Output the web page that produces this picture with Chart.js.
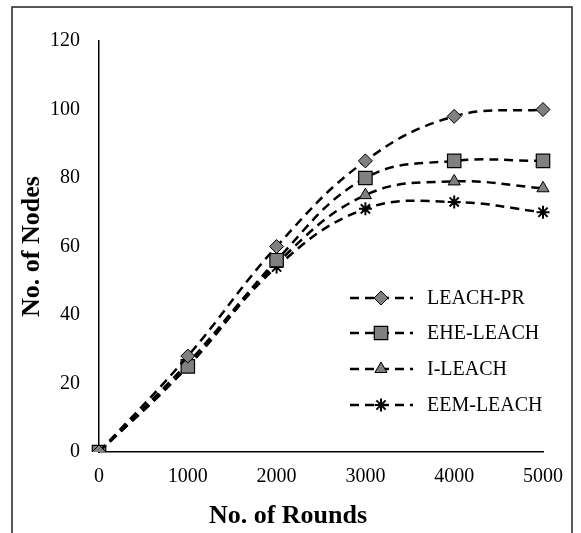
<!DOCTYPE html>
<html>
<head>
<meta charset="utf-8">
<script src="https://cdn.jsdelivr.net/npm/chart.js@4.4.1/dist/chart.umd.min.js"></script>
<style>
  body { margin: 0; background: #fff; overflow: hidden; }
  #wrap { width: 581px; height: 533px; position: relative; }
</style>
</head>
<body>
<div id="wrap"><canvas id="nodesChart"></canvas></div>
<script>
// 数据
const rounds = ['0', '1000', '2000', '3000', '4000', '5000'];
const seriesNames = ['LEACH-PR', 'EHE-LEACH', 'I-LEACH', 'EEM-LEACH'];
const leachPR = [0, 28, 60, 85, 98, 100];
const eheLeach = [0, 25, 56, 80, 85, 85];
const iLeach = [0, 26, 55, 75, 79, 77];
const eemLeach = [0, 25, 54, 71, 73, 70];
const yTicks = [0, 20, 40, 60, 80, 100, 120];

const serif = "'Liberation Serif', 'Times New Roman', serif";
Chart.defaults.font.family = serif;
Chart.defaults.font.size = 20;
Chart.defaults.color = '#000';

function lineSet(label, data, style, radius, bw) {
    return {
        label: label,
        data: data,
        borderColor: '#000',
        borderWidth: 2.5,
        borderDash: [9, 6],
        fill: false,
        tension: 0.4,
        pointStyle: style,
        pointRadius: radius,
        pointHoverRadius: radius,
        pointBackgroundColor: '#808080',
        pointBorderColor: '#000',
        pointBorderWidth: bw
    };
}

// 外框、横轴标题、图例
const decorPlugin = {
    id: 'decor',
    beforeDraw(chart) {
        const ctx = chart.ctx;
        ctx.save();
        ctx.strokeStyle = '#222';
        ctx.lineWidth = 1.5;
        ctx.strokeRect(12, 7, 560, 600);
        ctx.restore();
    },
    afterDraw(chart) {
        const ctx = chart.ctx;
        ctx.save();
        ctx.fillStyle = '#000';
        ctx.font = 'bold 26px ' + serif;
        ctx.textAlign = 'center';
        ctx.textBaseline = 'middle';
        ctx.fillText('No. of Rounds', 288, 516);

        const rowY = [298, 333, 369, 405];
        chart.data.datasets.forEach((ds, i) => {
            const y = rowY[i];
            ctx.save();
            ctx.strokeStyle = '#000';
            ctx.lineWidth = 2.5;
            ctx.setLineDash([9, 6]);
            ctx.beginPath();
            ctx.moveTo(350, y);
            ctx.lineTo(413, y);
            ctx.stroke();
            ctx.restore();

            ctx.save();
            ctx.fillStyle = ds.pointBackgroundColor;
            ctx.strokeStyle = ds.pointBorderColor;
            ctx.lineWidth = ds.pointBorderWidth;
            Chart.helpers.drawPoint(ctx, {
                pointStyle: ds.pointStyle,
                radius: ds.pointRadius,
                rotation: 0,
                borderWidth: ds.pointBorderWidth
            }, 381, y);
            ctx.restore();

            ctx.fillStyle = '#000';
            ctx.font = '20px ' + serif;
            ctx.textAlign = 'left';
            ctx.fillText(ds.label, 427, y + 1);
        });
        ctx.restore();
    }
};

const ctx = document.getElementById('nodesChart').getContext('2d');
new Chart(ctx, {
    type: 'line',
    data: {
        labels: rounds,
        datasets: [
            lineSet(seriesNames[0], leachPR, 'rectRot', 7, 1),
            lineSet(seriesNames[1], eheLeach, 'rect', 9.5, 1.2),
            lineSet(seriesNames[2], iLeach, 'triangle', 7, 1),
            lineSet(seriesNames[3], eemLeach, 'star', 6.5, 2)
        ]
    },
    options: {
        responsive: true,
        maintainAspectRatio: false,
        animation: false,
        layout: { padding: { top: 41, right: 38, left: 0, bottom: 0 } },
        plugins: {
            legend: { display: false },
            tooltip: { enabled: false }
        },
        scales: {
            x: {
                grid: { drawOnChartArea: false, drawTicks: false },
                border: { color: '#000', width: 1.5 },
                ticks: { padding: 13, maxRotation: 0, autoSkip: false },
                afterFit(scale) { scale.height = 81; }
            },
            y: {
                min: 0,
                max: 120,
                grid: { drawOnChartArea: false, drawTicks: false },
                border: { color: '#000', width: 1.5 },
                ticks: { stepSize: 20, padding: 19 },
                afterBuildTicks(scale) { scale.ticks = yTicks.map(v => ({ value: v })); },
                title: {
                    display: true,
                    text: 'No. of Nodes',
                    font: { size: 26, weight: 'bold' },
                    padding: { top: 17, bottom: 0 }
                },
                afterFit(scale) { scale.width = 99; }
            }
        }
    },
    plugins: [decorPlugin]
});
</script>
</body>
</html>
